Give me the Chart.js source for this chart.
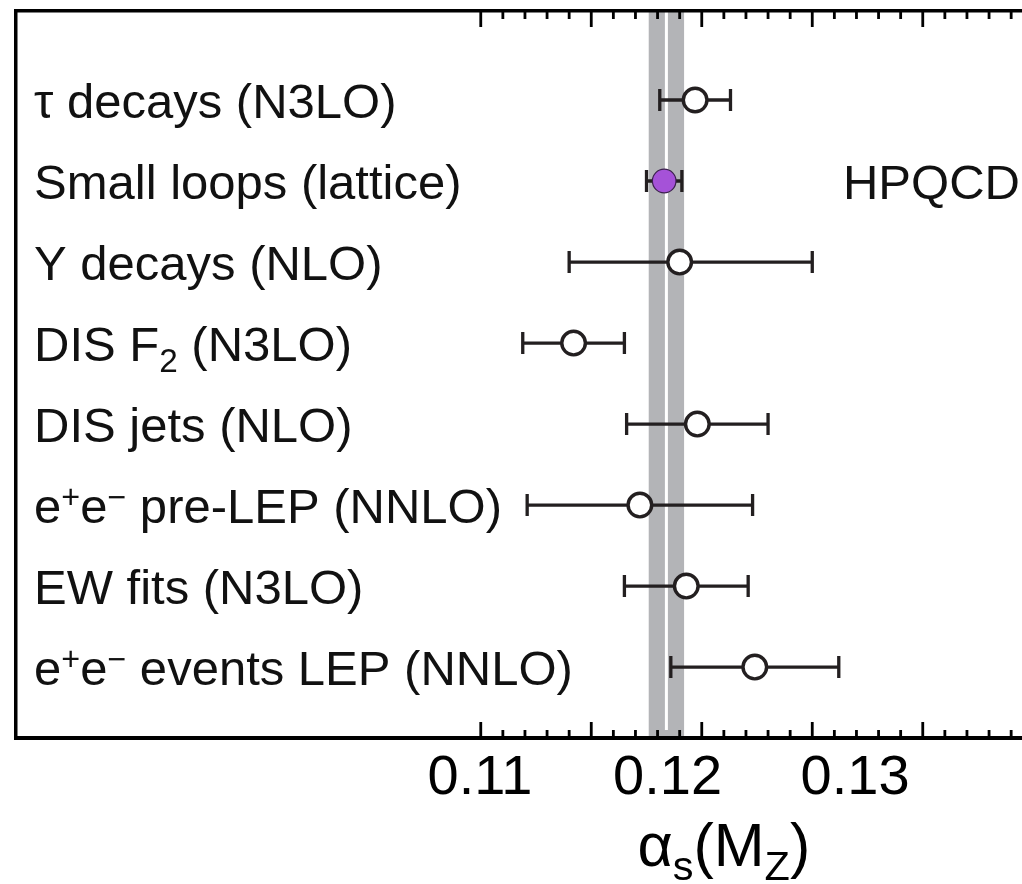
<!DOCTYPE html>
<html>
<head>
<meta charset="utf-8">
<script src="https://cdn.jsdelivr.net/npm/chart.js@4.4.0/dist/chart.umd.min.js"></script>
<style>
  html, body { margin: 0; padding: 0; background: #fff; }
  #wrap { width: 1022px; height: 884px; overflow: hidden; }
  canvas { display: block; }
</style>
</head>
<body>
<div id="wrap"><canvas id="alphaChart" width="1075" height="884"></canvas></div>
<script>
// alpha_s(M_Z) by method, top row first. _{..} = subscript, ^{..} = superscript
const methods = [
    'τ decays (N3LO)',
    'Small loops (lattice)',
    'Y decays (NLO)',
    'DIS F_{2} (N3LO)',
    'DIS jets (NLO)',
    'e^{+}e^{−} pre-LEP (NNLO)',
    'EW fits (N3LO)',
    'e^{+}e^{−} events LEP (NNLO)'
];
const central = [0.1197, 0.1183, 0.1190, 0.1142, 0.1198, 0.1172, 0.1193, 0.1224];
const errLow  = [0.0016, 0.0008, 0.0050, 0.0023, 0.0032, 0.0051, 0.0028, 0.0038];
const errHigh = [0.0016, 0.0008, 0.0060, 0.0023, 0.0032, 0.0051, 0.0028, 0.0038];

// world average band
const worldAvg = 0.1184;
const worldErr = 0.0008;

const tickLabels = [0.11, 0.12, 0.13];
const latticeRow = 'Small loops (lattice)';
const latticeTag = 'HPQCD';

const FONT = '"Liberation Sans", Arial, Helvetica, sans-serif';
const INK = '#231f20';
// data axis range, and the (narrower spaced) range the numbers are printed on
const X_MIN = 0.08897, X_MAX = 0.13621;
const LAB_MIN = 0.085253, LAB_MAX = 0.14093;

const SUP = 0.66, SUB = 0.68;

// draws a string with _{} / ^{} parts, returns end x
function drawRich(ctx, str, x, y, size) {
    const parts = str.split(/([_^]\{[^}]*\})/).filter(Boolean);
    parts.forEach(p => {
        let s = size, dy = 0, t = p;
        if (p[0] === '^') { t = p.slice(2, -1); s = size * SUP; dy = -size * 0.3; }
        else if (p[0] === '_') { t = p.slice(2, -1); s = size * SUB; dy = size * 0.23; }
        ctx.font = s + 'px ' + FONT;
        ctx.fillText(t, x, y + dy);
        x += ctx.measureText(t).width;
    });
    return x;
}
function richWidth(ctx, str, size) {
    let w = 0;
    str.split(/([_^]\{[^}]*\})/).filter(Boolean).forEach(p => {
        let s = size, t = p;
        if (p[0] === '^') { t = p.slice(2, -1); s = size * SUP; }
        else if (p[0] === '_') { t = p.slice(2, -1); s = size * SUB; }
        ctx.font = s + 'px ' + FONT;
        w += ctx.measureText(t).width;
    });
    return w;
}

const bandPlugin = {
    id: 'bandPlugin',
    beforeDraw(chart) {
        const { ctx, chartArea: a, scales: { x } } = chart;
        const l = x.getPixelForValue(worldAvg - worldErr);
        const r = x.getPixelForValue(worldAvg + worldErr);
        const c = x.getPixelForValue(worldAvg);
        ctx.save();
        ctx.fillStyle = '#b3b4b7';
        ctx.fillRect(l, a.top, r - l, a.bottom - a.top);
        ctx.fillStyle = '#fff';
        ctx.fillRect(c - 1.5, a.top, 3, a.bottom - a.top - 8);
        ctx.restore();
    }
};

// inward tick marks on top and bottom edges every 0.001 from 0.11, then error bars
const tickPlugin = {
    id: 'tickPlugin',
    beforeDatasetsDraw(chart) {
        const { ctx, chartArea: a, scales: { x, y } } = chart;
        ctx.save();
        ctx.strokeStyle = '#000';
        ctx.lineWidth = 2.8;
        ctx.beginPath();
        for (let k = 110; k <= 136; k++) {
            const px = x.getPixelForValue(k / 1000);
            if (px > a.right) break;
            const len = k % 5 === 0 ? 16 : 8;
            ctx.moveTo(px, a.top); ctx.lineTo(px, a.top + len);
            ctx.moveTo(px, a.bottom); ctx.lineTo(px, a.bottom - len);
        }
        ctx.stroke();

        ctx.strokeStyle = INK;
        ctx.lineWidth = 3.3;
        ctx.beginPath();
        methods.forEach((m, i) => {
            const py = y.getPixelForValue(i);
            const x0 = x.getPixelForValue(central[i] - errLow[i]);
            const x1 = x.getPixelForValue(central[i] + errHigh[i]);
            ctx.moveTo(x0, py); ctx.lineTo(x1, py);
            ctx.moveTo(x0, py - 11); ctx.lineTo(x0, py + 11);
            ctx.moveTo(x1, py - 11); ctx.lineTo(x1, py + 11);
        });
        ctx.stroke();
        ctx.restore();
    }
};

const textPlugin = {
    id: 'textPlugin',
    afterDraw(chart) {
        const { ctx, chartArea: a, scales: { x, y } } = chart;
        const size = 49;
        ctx.save();
        ctx.fillStyle = '#111';
        ctx.textBaseline = 'alphabetic';
        ctx.textAlign = 'left';
        methods.forEach((m, i) => {
            const py = y.getPixelForValue(i) + size * 0.358;
            drawRich(ctx, m, a.left + 18, py, size);
            if (m === latticeRow) {
                ctx.font = size + 'px ' + FONT;
                ctx.fillText(latticeTag, x.getPixelForValue(0.12639), py);
            }
        });

        // axis title
        const title = 'α_{s}(M_{Z})';
        const tSize = 61;
        const w = richWidth(ctx, title, tSize);
        ctx.fillStyle = '#000';
        drawRich(ctx, title, x.getPixelForValue(0.1210) - w / 2, 866, tSize);
        ctx.restore();
    }
};

new Chart(document.getElementById('alphaChart'), {
    type: 'scatter',
    data: {
        datasets: [{
            data: central.map((v, i) => ({ x: v, y: i })),
            pointRadius: 11.8,
            pointBorderWidth: ctx => methods[ctx.dataIndex] === latticeRow ? 1.2 : 3.4,
            pointBorderColor: ctx => methods[ctx.dataIndex] === latticeRow ? '#3b1f4d' : INK,
            pointBackgroundColor: ctx => methods[ctx.dataIndex] === latticeRow ? '#a552d8' : '#fff'
        }]
    },
    options: {
        responsive: false,
        animation: false,
        events: [],
        layout: { autoPadding: false, padding: { left: 16, top: 11, right: 15, bottom: 64 } },
        plugins: { legend: { display: false }, tooltip: { enabled: false } },
        scales: {
            x: {
                type: 'linear',
                position: 'bottom',
                weight: 0,
                min: X_MIN,
                max: X_MAX,
                ticks: { display: false },
                grid: { display: false },
                border: { display: true, color: '#000', width: 4 },
                afterFit: s => { s.height = 0; }
            },
            xLab: {
                type: 'linear',
                position: 'bottom',
                weight: 1,
                min: LAB_MIN,
                max: LAB_MAX,
                afterBuildTicks: s => { s.ticks = tickLabels.map(v => ({ value: v })); },
                ticks: {
                    callback: v => v.toFixed(2),
                    font: { family: FONT, size: 56 },
                    color: '#000',
                    padding: -1,
                    maxRotation: 0,
                    autoSkip: false
                },
                grid: { display: false },
                border: { display: false },
                afterFit: s => { s.height = 82; }
            },
            xTop: {
                type: 'linear',
                position: 'top',
                min: X_MIN,
                max: X_MAX,
                ticks: { display: false },
                grid: { display: false },
                border: { display: true, color: '#000', width: 3.5 },
                afterFit: s => { s.height = 0; }
            },
            y: {
                type: 'linear',
                position: 'left',
                reverse: true,
                min: -1.099,
                max: 7.876,
                ticks: { display: false },
                grid: { display: false },
                border: { display: true, color: '#000', width: 3.5 },
                afterFit: s => { s.width = 0; }
            }
        }
    },
    plugins: [bandPlugin, tickPlugin, textPlugin]
});
</script>
</body>
</html>
